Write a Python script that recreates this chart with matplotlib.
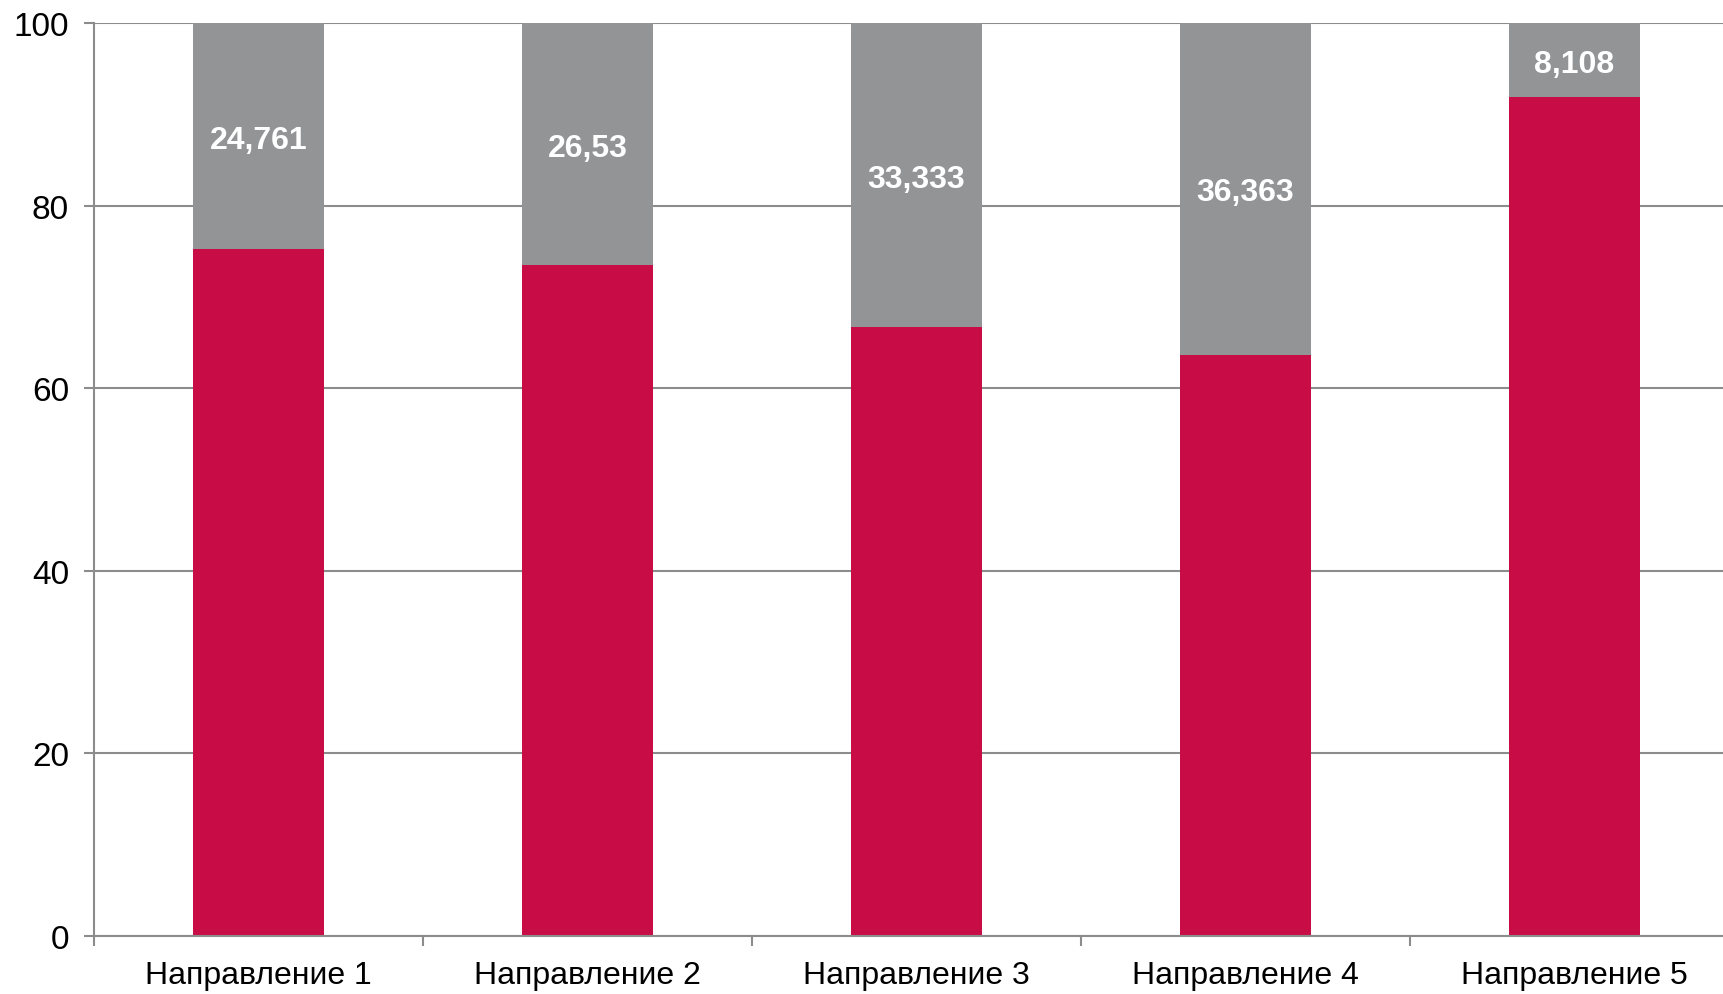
import numpy as np
import matplotlib.pyplot as plt
from matplotlib.ticker import FixedLocator

# data
categories = ['Направление 1', 'Направление 2', 'Направление 3', 'Направление 4', 'Направление 5']
grey_share = [24.761, 26.53, 33.333, 36.363, 8.108]
red_share = [100 - g for g in grey_share]
grey_labels = ['24,761', '26,53', '33,333', '36,363', '8,108']

plt.rcParams['font.family'] = ['Liberation Sans', 'DejaVu Sans']

fig = plt.figure(figsize=(17.24, 9.95), dpi=100)
ax = fig.add_axes([94 / 1724, 1 - 937 / 995, (1739 - 94) / 1724, (937 - 24) / 995])

x = np.arange(len(categories))
ax.bar(x, red_share, width=0.4, color='#c80d46', zorder=3)
ax.bar(x, grey_share, width=0.4, bottom=red_share, color='#939496', zorder=3)

for xi, r, g, lab in zip(x, red_share, grey_share, grey_labels):
    ax.text(xi, r + g / 2, lab, ha='center', va='center_baseline', color='white',
            fontsize=23, fontweight='bold', zorder=4)

ax.set_xlim(-0.5, len(categories) - 0.5)
ax.set_ylim(0, 100)
ax.set_yticks([0, 20, 40, 60, 80, 100])
ax.yaxis.grid(True, color='#8c8c8c', linewidth=1.5, zorder=0)

ax.set_xticks(x)
ax.set_xticklabels(categories)
ax.xaxis.set_minor_locator(FixedLocator(np.arange(-0.5, len(categories), 1.0)))
ax.tick_params(axis='x', which='major', length=0, pad=17, labelsize=23)
ax.tick_params(axis='x', which='minor', length=7, width=1.5, color='#8c8c8c')
ax.tick_params(axis='y', length=7, width=1.5, color='#8c8c8c', pad=11, labelsize=24)

for side in ['top', 'right']:
    ax.spines[side].set_visible(False)
for side in ['left', 'bottom']:
    ax.spines[side].set_color('#8c8c8c')
    ax.spines[side].set_linewidth(1.5)
ax.spines['bottom'].set_zorder(5)

fig.savefig('out.png', dpi=100)
